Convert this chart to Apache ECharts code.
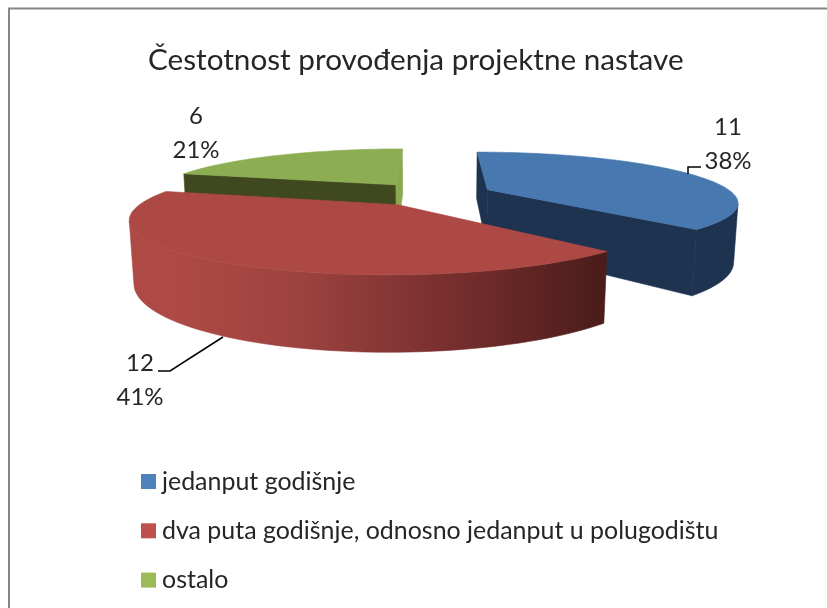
<!DOCTYPE html>
<html>
<head>
<meta charset="utf-8">
<style>
  html, body { margin: 0; padding: 0; background: #fff; }
  #chart { width: 827px; height: 608px; }
</style>
<script src="https://cdn.jsdelivr.net/npm/echarts@6/dist/echarts.min.js"></script>
</head>
<body>
<div id="chart"></div>
<script>
var chartTitle = 'Čestotnost provođenja projektne nastave'
var categories = ['jedanput godišnje', 'dva puta godišnje, odnosno jedanput u polugodištu', 'ostalo']
var values = [11, 12, 6]

// colours per slice
var legendColors = ['#4F81BD', '#C0504D', '#9BBB59']
var topColors = ['#4878B0', '#AD4945', '#8DAD52']
var startWallColors = ['#1E3350', '#6B2A28', '#40481F']
var endWallColors = ['#1E3350', '#6B2A28', '#8AA850']
var arcWallColors = ['#1E3350', null, '#40481F']
var sliceZ = [2, 3, 1]

// where the value labels sit, and their leader lines
var labelX = [728, 140, 196]
var labelY = [127, 363, 116]
var leaders = [
	[[688, 174], [688, 167], [701, 167]],
	[[223, 337], [170, 371], [158, 371]],
	null,
]

// projection of the tilted pie: unit circle -> screen, with perspective
var cx = 431.5, cy = 194
var scaleX = 246, scaleY = 48
var persp = 0.23, explode = 0.25
var wallH = 58, wallPersp = 0.014

var total = values.reduce(function (a, b) { return a + b }, 0)

function project(X, Y, bottom) {
	var w = 1 + persp * Y + (bottom ? wallPersp : 0)
	return [cx + scaleX * X / w, cy + (-scaleY * Y + (bottom ? wallH : 0)) / w]
}

function quadArea(p) {
	var s = 0
	for (var i = 0; i < p.length; i++) {
		var q = p[(i + 1) % p.length]
		s += p[i][0] * q[1] - q[0] * p[i][1]
	}
	return s
}

function poly(points, fill) {
	return {
		type: 'polygon',
		shape: { points: points },
		style: { fill: fill, stroke: fill, lineWidth: 0.6 },
		silent: true,
	}
}

// red wall goes from light to dark across the front
var redWall = {
	type: 'linear', global: true, x: 170, y: 0, x2: 606, y2: 0,
	colorStops: [
		{ offset: 0, color: '#AE4A45' },
		{ offset: 0.3, color: '#9C4240' },
		{ offset: 0.62, color: '#7A302F' },
		{ offset: 1, color: '#4A1C1A' },
	],
}

function renderSlice(index, startDeg, params, api) {
	var value = api.value(0)
	var span = value / total * 360
	var mid = (startDeg + span / 2) * Math.PI / 180
	var ox = explode * Math.sin(mid), oy = explode * Math.cos(mid)
	var steps = Math.ceil(span / 2)
	var topPts = [], botPts = []
	for (var i = 0; i <= steps; i++) {
		var t = (startDeg + span * i / steps) * Math.PI / 180
		topPts.push(project(ox + Math.sin(t), oy + Math.cos(t), false))
		botPts.push(project(ox + Math.sin(t), oy + Math.cos(t), true))
	}
	var apexTop = project(ox, oy, false), apexBot = project(ox, oy, true)
	var children = []

	// radial walls, only the ones that face the viewer
	var startQuad = [apexTop, topPts[0], botPts[0], apexBot]
	if (quadArea(startQuad) < 0) children.push(poly(startQuad, startWallColors[index]))
	var endQuad = [topPts[steps], apexTop, apexBot, botPts[steps]]
	if (quadArea(endQuad) < 0) children.push(poly(endQuad, endWallColors[index]))

	// outer wall
	var arcTop = [], arcBot = []
	for (var k = 0; k < steps; k++) {
		if (quadArea([topPts[k], topPts[k + 1], botPts[k + 1], botPts[k]]) < 0) {
			if (!arcTop.length) { arcTop.push(topPts[k]); arcBot.push(botPts[k]) }
			arcTop.push(topPts[k + 1])
			arcBot.push(botPts[k + 1])
		}
	}
	if (arcTop.length) {
		children.push(poly(arcTop.concat(arcBot.reverse()), arcWallColors[index] || redWall))
	}

	// top face
	children.push(poly([apexTop].concat(topPts), topColors[index]))

	// leader and label
	if (leaders[index]) {
		children.push({
			type: 'polyline',
			shape: { points: leaders[index] },
			style: { stroke: '#000', lineWidth: 1.5, fill: null },
			silent: true,
		})
	}
	var labelStyle = { fill: '#262626', fontSize: 24, fontFamily: 'Lato', align: 'center', verticalAlign: 'middle' }
	children.push({
		type: 'text',
		style: Object.assign({ text: String(value), x: labelX[index], y: labelY[index] }, labelStyle),
		silent: true,
	})
	children.push({
		type: 'text',
		style: Object.assign({ text: Math.round(value / total * 100) + '%', x: labelX[index], y: labelY[index] + 34 }, labelStyle),
		silent: true,
	})
	return { type: 'group', children: children }
}

var acc = 0
var series = categories.map(function (name, i) {
	var startDeg = acc / total * 360
	acc += values[i]
	return {
		name: name,
		type: 'custom',
		coordinateSystem: 'none',
		z: sliceZ[i],
		animation: false,
		silent: true,
		itemStyle: { color: legendColors[i] },
		data: [[values[i]]],
		renderItem: function (params, api) {
			return renderSlice(i, startDeg, params, api)
		},
	}
})

var chart = echarts.init(document.getElementById('chart'), null, { renderer: 'canvas' })
chart.setOption({
	animation: false,
	backgroundColor: '#fff',
	title: {
		text: chartTitle,
		left: 148,
		top: 45,
		padding: 0,
		textStyle: { fontFamily: 'Lato', fontSize: 29.7, fontWeight: 'normal', color: '#262626' },
	},
	legend: {
		orient: 'vertical',
		left: 141,
		top: 469,
		padding: 0,
		itemWidth: 15,
		itemHeight: 15,
		itemGap: 24.3,
		icon: 'rect',
		selectedMode: false,
		data: categories,
		textStyle: { fontFamily: 'Lato', fontSize: 24.95, color: '#262626', lineHeight: 24, padding: [0, 0, 0, 1] },
	},
	graphic: [
		{
			type: 'polyline',
			shape: { points: [[9, 620], [9, 8.5], [840, 8.5]] },
			style: { stroke: '#868686', lineWidth: 2, fill: null },
			silent: true,
		},
	],
	series: series,
})
</script>
</body>
</html>
